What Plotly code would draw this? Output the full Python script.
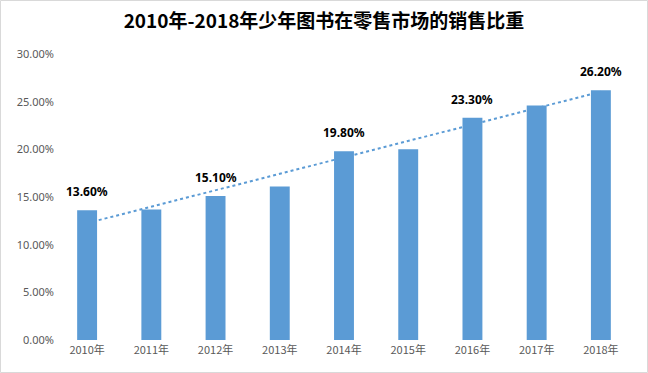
import numpy as np
import plotly.graph_objects as go

years = ["2010年", "2011年", "2012年", "2013年", "2014年", "2015年", "2016年", "2017年", "2018年"]
share = [0.136, 0.137, 0.151, 0.161, 0.198, 0.200, 0.233, 0.246, 0.262]
bar_labels = ["13.60%", "", "15.10%", "", "19.80%", "", "23.30%", "", "26.20%"]
y_ticks = [0, 0.05, 0.10, 0.15, 0.20, 0.25, 0.30]
title = "2010年-2018年少年图书在零售市场的销售比重"

# linear trendline (least squares fit of the series)
xi = np.arange(1, len(share) + 1)
k, b = np.polyfit(xi, share, 1)
trend = k * xi + b

W, H = 648, 373
ml, mr, mt, mb = 55, 15, 54, 33

fig = go.Figure()
fig.add_trace(go.Scatter(
    x=years, y=trend, mode="lines",
    line=dict(color="#5B9BD5", width=2, dash="dot"),
    hoverinfo="skip", showlegend=False, zorder=0,
))
fig.add_trace(go.Bar(
    x=years, y=share, marker=dict(color="#5B9BD5", line=dict(width=0)),
    showlegend=False, zorder=1,
))

for yr, v, lab in zip(years, share, bar_labels):
    if lab:
        fig.add_annotation(x=yr, y=v, text=lab, showarrow=False, xanchor="center",
                           yanchor="bottom", yshift=8,
                           font=dict(family="Noto Sans, sans-serif", size=12, color="#000000", weight="bold"))

pw = W - ml - mr
ph = H - mt - mb
fig.add_shape(type="rect", xref="paper", yref="paper",
              x0=(-ml + 0.5) / pw, x1=(W - ml - 0.5) / pw,
              y0=(-mb + 0.5) / ph, y1=(H - mb - 0.5) / ph,
              line=dict(color="#D9D9D9", width=1), fillcolor="rgba(0,0,0,0)", layer="below")

fig.update_layout(
    width=W, height=H,
    margin=dict(l=ml, r=mr, t=mt, b=mb, autoexpand=False),
    paper_bgcolor="white", plot_bgcolor="white",
    bargap=0.69,
    title=dict(text=title, x=0.5, xref="container", xanchor="center", y=1 - 21 / H, yref="container",
               yanchor="middle",
               font=dict(family="Noto Sans CJK SC, sans-serif", size=19, color="#000000", weight="bold")),
    xaxis=dict(showgrid=False, showline=True, linecolor="#D9D9D9", linewidth=1, automargin=False,
               ticks="", tickfont=dict(family="Noto Sans CJK SC, sans-serif", size=11, color="#595959")),
    yaxis=dict(range=[0, 0.30], tickvals=y_ticks, tickformat=".2%", showgrid=False, automargin=False,
               zeroline=False, showline=False, ticks="",
               tickfont=dict(family="Noto Sans, sans-serif", size=11, color="#595959")),
)

fig.write_html("out.html", config={"displayModeBar": False},
               post_script="document.body.style.margin='0';")
